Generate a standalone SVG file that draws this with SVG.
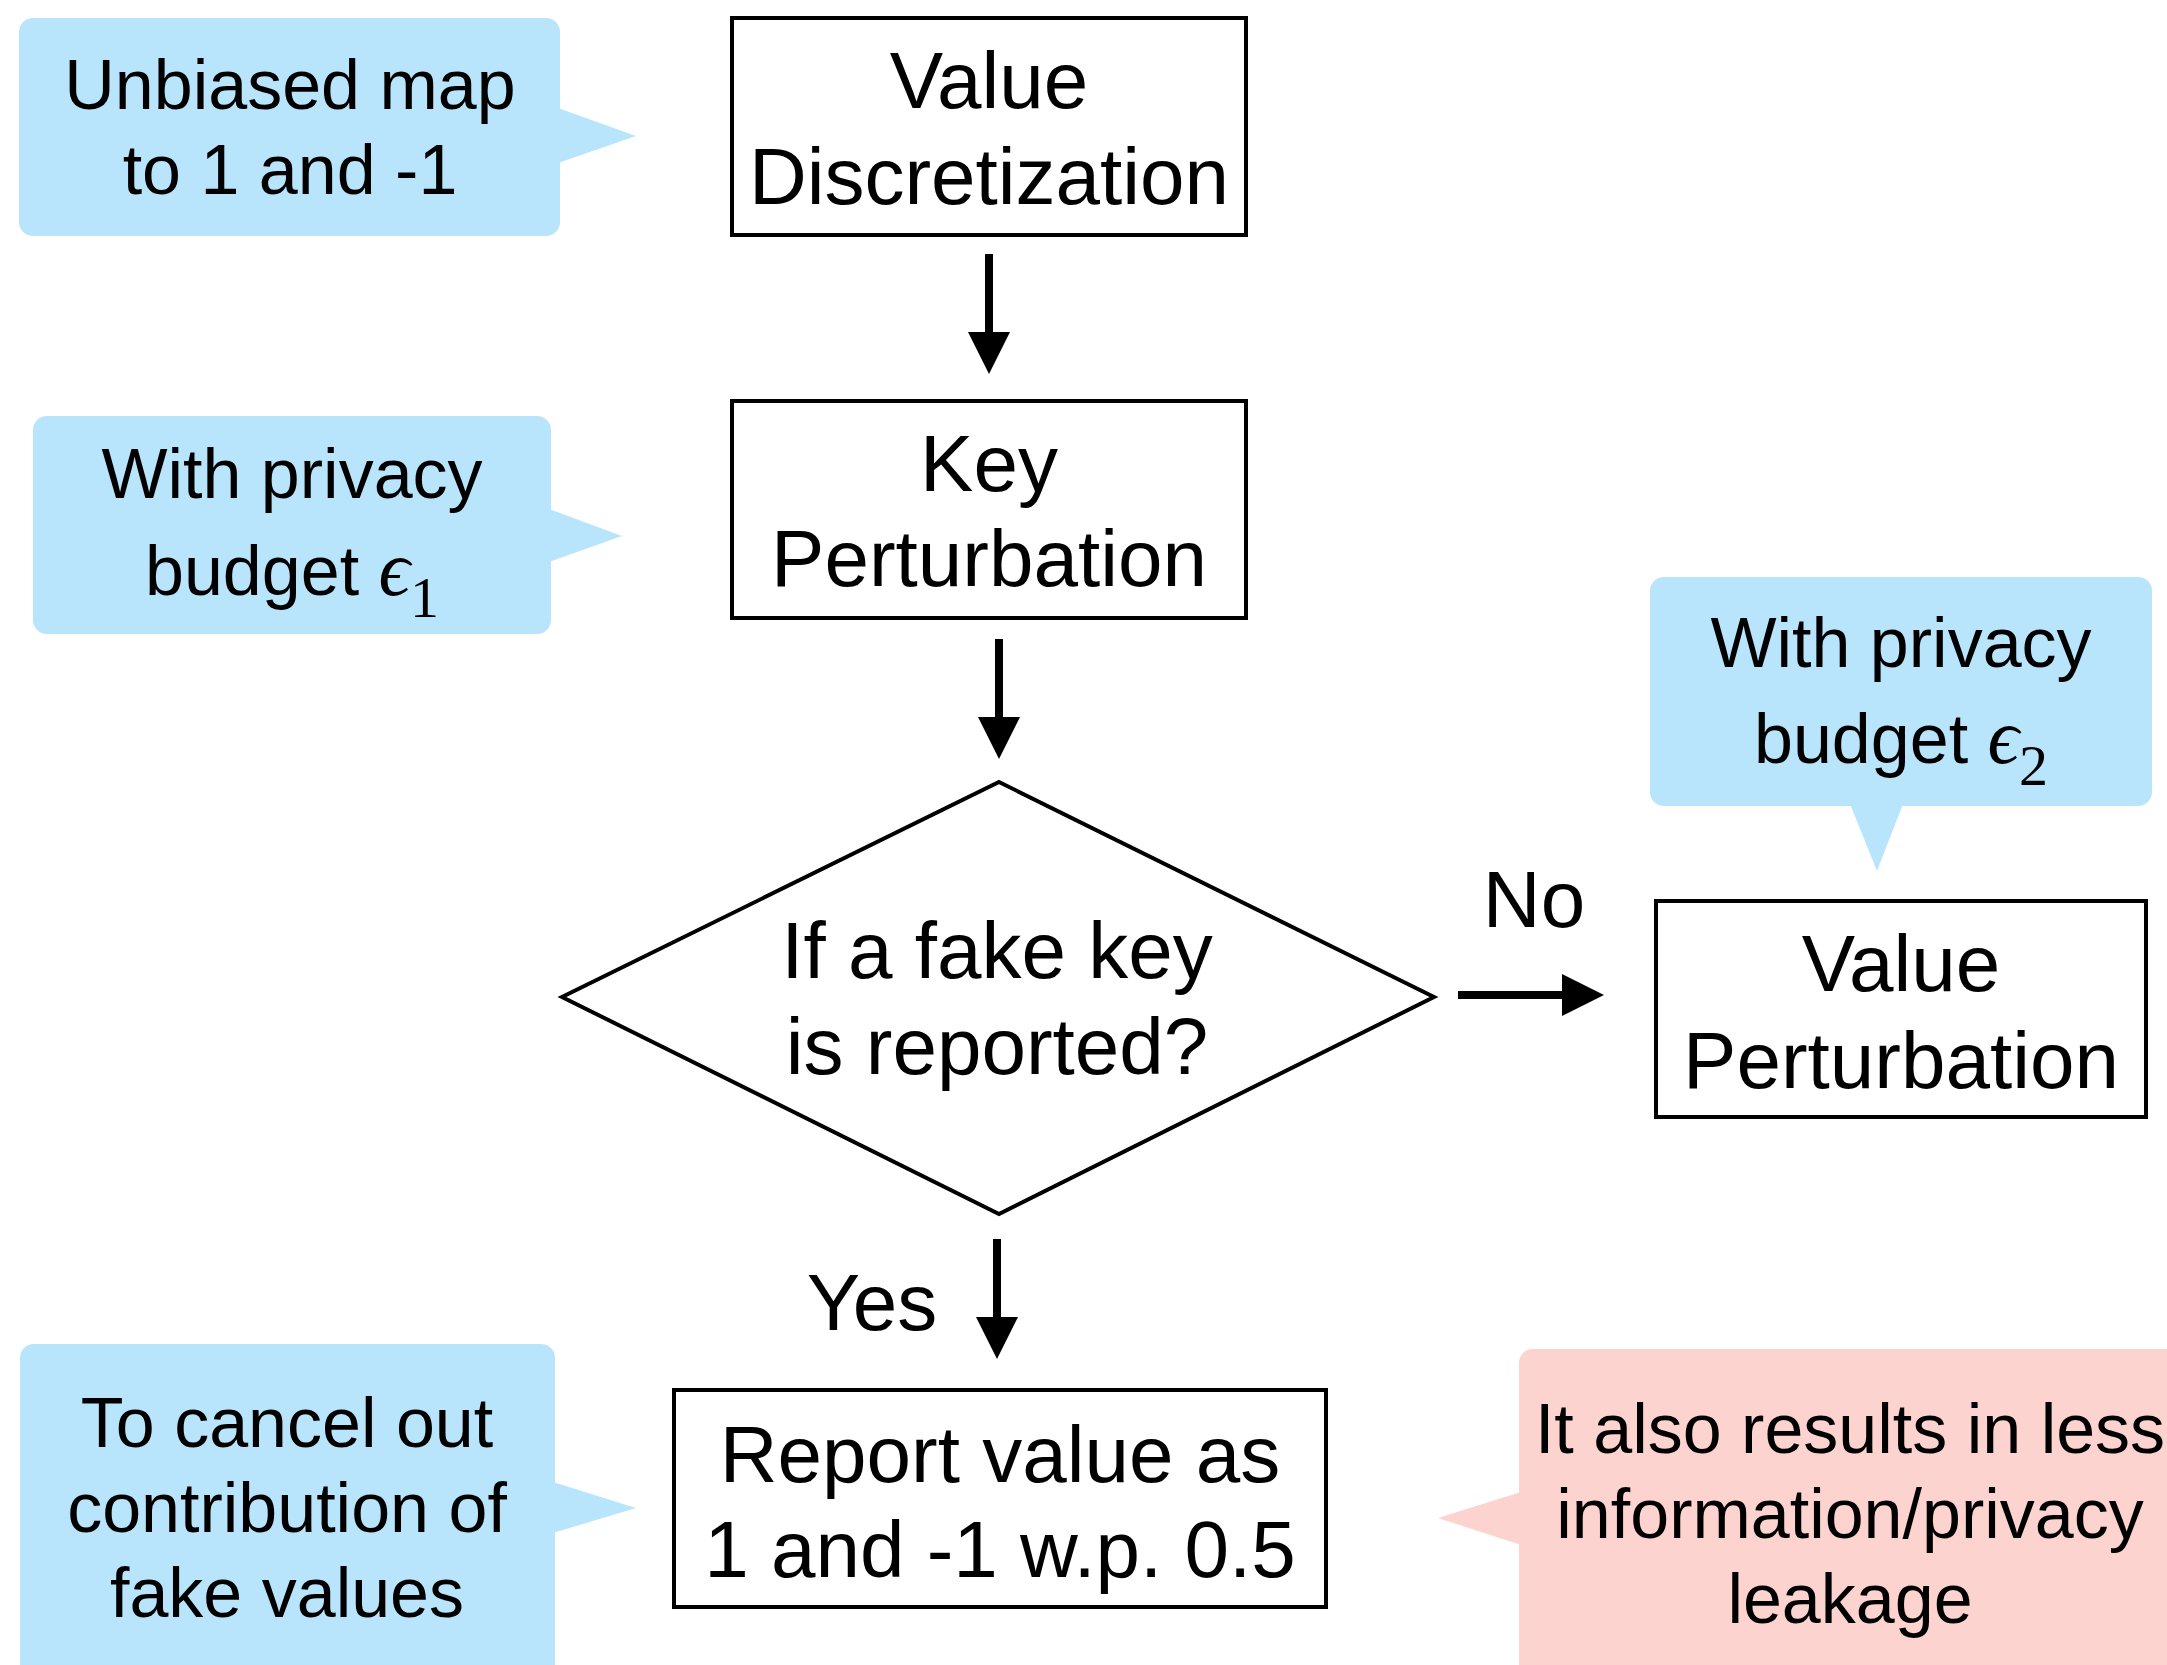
<svg xmlns="http://www.w3.org/2000/svg" width="2167" height="1665" viewBox="0 0 2167 1665">
  <style>
    .box { fill: #ffffff; stroke: #000000; stroke-width: 4; }
    .note-blue { fill: #B9E5FC; }
    .note-pink { fill: #FDD3D0; }
    .label { font-family: "Liberation Sans", Arial, Helvetica, sans-serif; font-size: 80px; fill: #000000; text-anchor: middle; }
    .note { font-family: "Liberation Sans", Arial, Helvetica, sans-serif; font-size: 70px; fill: #000000; text-anchor: middle; }
    .math { font-family: "Liberation Serif", "DejaVu Serif", "Times New Roman", serif; font-style: italic; font-size: 78px; }
    .sub { font-family: "Liberation Serif", "DejaVu Serif", "Times New Roman", serif; font-style: normal; font-size: 58px; }
    .edge { stroke: #000000; stroke-width: 8; fill: none; }
  </style>
  <defs>
    <marker id="head" viewBox="0 0 10 10" refX="0" refY="5" markerUnits="userSpaceOnUse" markerWidth="46" markerHeight="42" orient="auto">
      <path d="M0,0 L10,5 L0,10 Z" fill="#000000"/>
    </marker>
  </defs>

  <rect width="2167" height="1665" fill="#ffffff"/>

  <!-- annotation callouts -->
  <g id="note-unbiased">
    <rect class="note-blue" x="19" y="18" width="541" height="218" rx="14"/>
    <polygon class="note-blue" points="558,108 636,136 558,163"/>
    <text class="note" x="290" y="109">Unbiased map</text>
    <text class="note" x="290" y="194">to 1 and -1</text>
  </g>

  <g id="note-budget1">
    <rect class="note-blue" x="33" y="416" width="518" height="218" rx="14"/>
    <polygon class="note-blue" points="549,509 622,536 549,562"/>
    <text class="note" x="292" y="498">With privacy</text>
    <text class="note" x="292" y="595">budget <tspan class="math">ϵ</tspan><tspan class="sub" dy="22">1</tspan></text>
  </g>

  <g id="note-budget2">
    <rect class="note-blue" x="1650" y="577" width="502" height="229" rx="14"/>
    <polygon class="note-blue" points="1850,804 1903,804 1877,871"/>
    <text class="note" x="1901" y="667">With privacy</text>
    <text class="note" x="1901" y="763">budget <tspan class="math">ϵ</tspan><tspan class="sub" dy="22">2</tspan></text>
  </g>

  <g id="note-cancel">
    <rect class="note-blue" x="20" y="1344" width="535" height="340" rx="14"/>
    <polygon class="note-blue" points="553,1482 636,1508 553,1533"/>
    <text class="note" x="287" y="1447">To cancel out</text>
    <text class="note" x="287" y="1532">contribution of</text>
    <text class="note" x="287" y="1617">fake values</text>
  </g>

  <g id="note-leakage">
    <rect class="note-pink" x="1519" y="1349" width="680" height="340" rx="14"/>
    <polygon class="note-pink" points="1521,1492 1438,1518 1521,1545"/>
    <text class="note" x="1850" y="1453">It also results in less</text>
    <text class="note" x="1850" y="1538">information/privacy</text>
    <text class="note" x="1850" y="1623">leakage</text>
  </g>

  <!-- process steps -->
  <g id="value-discretization">
    <rect class="box" x="732" y="18" width="514" height="217"/>
    <text class="label" x="989" y="108">Value</text>
    <text class="label" x="989" y="204">Discretization</text>
  </g>

  <g id="key-perturbation">
    <rect class="box" x="732" y="401" width="514" height="217"/>
    <text class="label" x="989" y="491">Key</text>
    <text class="label" x="989" y="586">Perturbation</text>
  </g>

  <g id="fake-key-check">
    <polygon class="box" points="999,782 1434,997 999,1214 562,997"/>
    <text class="label" x="997" y="978">If a fake key</text>
    <text class="label" x="997" y="1074">is reported?</text>
  </g>

  <g id="value-perturbation">
    <rect class="box" x="1656" y="901" width="490" height="216"/>
    <text class="label" x="1901" y="991">Value</text>
    <text class="label" x="1901" y="1088">Perturbation</text>
  </g>

  <g id="report-value">
    <rect class="box" x="674" y="1390" width="652" height="217"/>
    <text class="label" x="1000" y="1482">Report value as</text>
    <text class="label" x="1000" y="1577">1 and -1 w.p. 0.5</text>
  </g>

  <!-- connectors -->
  <g id="connectors">
    <line class="edge" x1="989" y1="254" x2="989" y2="332" marker-end="url(#head)"/>
    <line class="edge" x1="999" y1="639" x2="999" y2="717" marker-end="url(#head)"/>
    <line class="edge" x1="1458" y1="995" x2="1562" y2="995" stroke-width="10" marker-end="url(#head)"/>
    <line class="edge" x1="997" y1="1239" x2="997" y2="1317" marker-end="url(#head)"/>
    <text class="label" x="1534" y="927">No</text>
    <text class="label" x="872" y="1330">Yes</text>
  </g>
</svg>
